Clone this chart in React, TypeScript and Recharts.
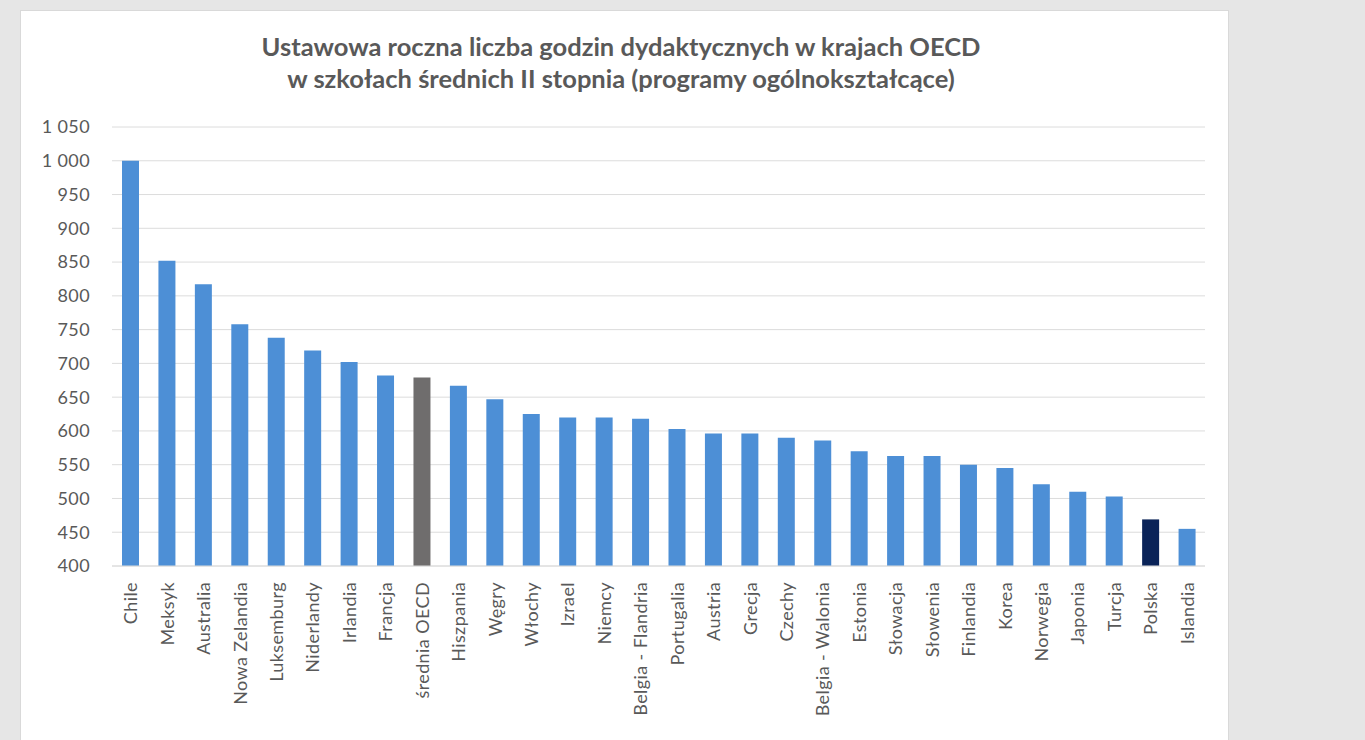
import React from 'react';
import { BarChart, Bar, XAxis, YAxis, CartesianGrid, Cell } from 'recharts';

const countries = [
  'Chile', 'Meksyk', 'Australia', 'Nowa Zelandia', 'Luksemburg', 'Niderlandy', 'Irlandia', 'Francja',
  'średnia OECD', 'Hiszpania', 'Węgry', 'Włochy', 'Izrael', 'Niemcy', 'Belgia - Flandria', 'Portugalia',
  'Austria', 'Grecja', 'Czechy', 'Belgia - Walonia', 'Estonia', 'Słowacja', 'Słowenia', 'Finlandia',
  'Korea', 'Norwegia', 'Japonia', 'Turcja', 'Polska', 'Islandia',
];

const hours = [
  1000, 852, 817, 758, 738, 719, 702, 682,
  679, 667, 647, 625, 620, 620, 618, 603,
  596, 596, 590, 586, 570, 563, 563, 550,
  545, 521, 510, 503, 469, 455,
];

const yTicks = [400, 450, 500, 550, 600, 650, 700, 750, 800, 850, 900, 950, 1000, 1050];

const titleLines = [
  'Ustawowa roczna liczba godzin dydaktycznych w krajach OECD',
  'w szkołach średnich II stopnia (programy ogólnokształcące)',
];

const data = countries.map((name, i) => ({ name, value: hours[i] }));

const barColor = (name: string) => {
  if (name === 'średnia OECD') return '#6f6d6d';
  if (name === 'Polska') return '#0a2358';
  return '#4d8fd6';
};

const fmt = (v: number) => (v >= 1000 ? `${Math.floor(v / 1000)} ${String(v % 1000).padStart(3, '0')}` : String(v));

const XTick = (props: any) => {
  const { x, y, payload } = props;
  return (
    <text
      x={x}
      y={y}
      transform={`rotate(-90, ${x}, ${y})`}
      dx={-8}
      dy={7}
      textAnchor="end"
      fill="#595959"
      fontSize={18}
      letterSpacing={0.4}
      fontFamily="Lato, sans-serif"
    >
      {payload.value}
    </text>
  );
};

export default function App() {
  return (
    <div style={{ position: 'absolute', left: 0, top: 0, width: 1365, height: 740, background: '#e6e6e6', overflow: 'hidden' }}>
      <div style={{ position: 'absolute', left: 21, top: 11, width: 1207, height: 740, background: '#fff', boxShadow: '0 0 0 1px #d9d9d9' }}>
        <div
          style={{
            position: 'absolute', left: 0, top: 19, width: 1200, textAlign: 'center',
            fontFamily: 'Lato, sans-serif', fontWeight: 700, fontSize: 25.5, lineHeight: '32px', color: '#595959',
          }}
        >
          {titleLines.map((t) => <div key={t}>{t}</div>)}
        </div>
        <div style={{ position: 'absolute', left: 0, top: 0 }}>
          <BarChart width={1207} height={729} data={data} margin={{ top: 116, right: 23, bottom: 0, left: 0 }}>
            <CartesianGrid vertical={false} stroke="#dcdcdc" />
            <XAxis
              dataKey="name"
              interval={0}
              height={174}
              tick={<XTick />}
              tickLine={false}
              axisLine={{ stroke: '#dcdcdc' }}
            />
            <YAxis
              width={91}
              domain={[400, 1050]}
              ticks={yTicks}
              tickFormatter={fmt}
              tickLine={false}
              axisLine={false}
              tick={{ fill: '#595959', fontSize: 18, fontFamily: 'Lato, sans-serif', letterSpacing: 0.4 }}
              tickMargin={16}
            />
            <Bar dataKey="value" barSize={17} isAnimationActive={false}>
              {data.map((d) => <Cell key={d.name} fill={barColor(d.name)} />)}
            </Bar>
          </BarChart>
        </div>
      </div>
    </div>
  );
}
